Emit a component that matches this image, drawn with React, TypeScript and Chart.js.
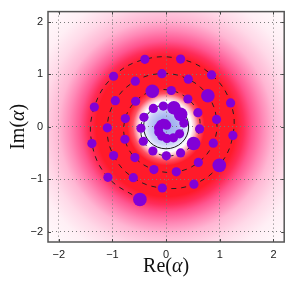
import React, { useEffect, useRef } from "react";
import { Chart, registerables } from "chart.js";

Chart.register(...registerables);

// ---- data ----
const axisTicks = [-2, -1, 0, 1, 2];
const axisMin = -2.2;
const axisMax = 2.2;
const xTitleParts = ["Re(", "\u03b1", ")"];
const yTitleParts = ["Im(", "\u03b1", ")"];

// trajectory points (Re, Im), ordered from the centre outwards
const dotRe = [
  0.01, -0.01, -0.053, -0.1, -0.14, -0.136, -0.083, 0.016, 0.137, 0.251,
  0.331, 0.27, 0.145, -0.052, -0.238, -0.413, -0.469, -0.425, -0.246, 0.004,
  0.27, 0.512, 0.624, 0.592, 0.406, 0.097, -0.257, -0.568, -0.76, -0.767,
  -0.581, -0.227, 0.19, 0.6, 0.879, 0.94, 0.778, 0.413, -0.078, -0.574,
  -0.946, -1.095, -0.978, -0.611, -0.071, 0.518, 0.991, 1.244, 1.201, 0.847,
  0.27, -0.395, -0.978, -1.337, -1.382, -1.084, -0.488,
];
const dotIm = [
  0.03, 0.055, 0.065, 0.04, -0.017, -0.098, -0.177, -0.223, -0.211, -0.134,
  0.071, 0.238, 0.363, 0.395, 0.35, 0.182, -0.028, -0.276, -0.462, -0.555,
  -0.499, -0.32, -0.041, 0.27, 0.531, 0.693, 0.68, 0.488, 0.158, -0.238,
  -0.587, -0.816, -0.86, -0.68, -0.313, 0.14, 0.592, 0.909, 1.015, 0.872,
  0.499, -0.019, -0.549, -0.972, -1.169, -1.095, -0.736, -0.164, 0.456, 0.991,
  1.294, 1.289, 0.965, 0.376, -0.32, -0.965, -1.387,
];
// relative marker weight (1 = normal, 2 = large)
const dotWeight = [
  1, 1, 1, 1, 1, 1, 1, 1, 1, 1,
  1, 2, 2, 1, 1, 1, 1, 1, 1, 1,
  1, 2, 1, 1, 1, 1, 2, 1, 1, 1,
  1, 1, 1, 1, 1, 1, 2, 1, 1, 1,
  1, 1, 1, 1, 1, 1, 2, 1, 1, 1,
  1, 1, 1, 1, 1, 1, 2,
];

// radial background (quasi-probability) profile
const bgRadius = [0, 0.2, 0.32, 0.4, 0.47, 0.54, 0.62, 0.72, 1.3, 1.45, 1.6, 1.8, 2.0, 2.3, 2.6, 3.2];
const bgColor = [
  "#98a8f0", "#aab8f2", "#c8d0f7", "#e6e9fc", "#ffffff", "#ffbcc6", "#ff5262", "#ff1a2a",
  "#ff1a2a", "#ff2c5a", "#ff5590", "#ff88b6", "#ffb6d3", "#ffd9e8", "#ffeff5", "#ffffff",
];
const zeroContourRadius = 0.42;

const fmt = (v: number) => (v < 0 ? "\u2212" + Math.abs(v) : String(v));

const SERIF = "'Liberation Serif', 'Times New Roman', serif";
const TITLE_SIZE = 20;

function drawMixed(ctx: CanvasRenderingContext2D, parts: string[], x: number, y: number, rot: number) {
  const fonts = parts.map((p, i) => (i === 1 ? `italic ${TITLE_SIZE}px ${SERIF}` : `${TITLE_SIZE}px ${SERIF}`));
  const widths = parts.map((p, i) => {
    ctx.font = fonts[i];
    return ctx.measureText(p).width;
  });
  const total = widths.reduce((a, b) => a + b, 0);
  ctx.save();
  ctx.translate(x, y);
  ctx.rotate(rot);
  ctx.fillStyle = "#111";
  ctx.textBaseline = "middle";
  ctx.textAlign = "left";
  let cx = -total / 2;
  parts.forEach((p, i) => {
    ctx.font = fonts[i];
    ctx.fillText(p, cx, 0);
    cx += widths[i];
  });
  ctx.restore();
}

const phasePlugin = {
  id: "phasePlugin",
  beforeDraw(chart: any) {
    const { ctx, chartArea: a, scales } = chart;
    const xs = scales.x, ys = scales.y;
    const cx = xs.getPixelForValue(0);
    const cy = ys.getPixelForValue(0);
    const rMax = bgRadius[bgRadius.length - 1];
    const pr = xs.getPixelForValue(rMax) - cx;
    const g = ctx.createRadialGradient(cx, cy, 0, cx, cy, pr);
    bgRadius.forEach((r, i) => g.addColorStop(r / rMax, bgColor[i]));
    ctx.save();
    ctx.fillStyle = g;
    ctx.fillRect(a.left, a.top, a.right - a.left, a.bottom - a.top);
    ctx.restore();
  },
  beforeDatasetsDraw(chart: any) {
    const { ctx, scales } = chart;
    const xs = scales.x, ys = scales.y;
    const cx = xs.getPixelForValue(0);
    const cy = ys.getPixelForValue(0);
    const rx = xs.getPixelForValue(zeroContourRadius) - cx;
    const ry = cy - ys.getPixelForValue(zeroContourRadius);
    ctx.save();
    ctx.strokeStyle = "#1a1a1a";
    ctx.lineWidth = 1;
    ctx.beginPath();
    ctx.ellipse(cx, cy, rx, ry, 0, 0, Math.PI * 2);
    ctx.stroke();
    ctx.restore();
  },
  afterDraw(chart: any) {
    const { ctx, chartArea: a, scales } = chart;
    ctx.save();
    ctx.strokeStyle = "#444";
    ctx.lineWidth = 1;
    const tl = 3;
    ctx.beginPath();
    axisTicks.forEach((v) => {
      const px = Math.round(scales.x.getPixelForValue(v)) + 0.5;
      ctx.moveTo(px, a.bottom);
      ctx.lineTo(px, a.bottom - tl);
      ctx.moveTo(px, a.top);
      ctx.lineTo(px, a.top + tl);
      const py = Math.round(scales.y.getPixelForValue(v)) + 0.5;
      ctx.moveTo(a.left, py);
      ctx.lineTo(a.left + tl, py);
      ctx.moveTo(a.right, py);
      ctx.lineTo(a.right - tl, py);
    });
    ctx.stroke();
    ctx.strokeStyle = "#555";
    ctx.lineWidth = 1.5;
    ctx.strokeRect(a.left, a.top, a.right - a.left, a.bottom - a.top);
    ctx.restore();
    // axis titles (upright "Re"/"Im", italic alpha)
    const midX = (a.left + a.right) / 2;
    const midY = (a.top + a.bottom) / 2;
    drawMixed(ctx, xTitleParts, midX, 267, 0);
    drawMixed(ctx, yTitleParts, 19, midY, -Math.PI / 2);
  },
};

export default function App() {
  const ref = useRef<HTMLCanvasElement | null>(null);

  useEffect(() => {
    if (!ref.current) return;
    const pts = dotRe.map((x, i) => ({ x, y: dotIm[i] }));
    const axisCommon = (isX: boolean) => ({
      type: "linear" as const,
      min: axisMin,
      max: axisMax,
      afterBuildTicks: (s: any) => {
        s.ticks = axisTicks.map((v) => ({ value: v }));
      },
      afterFit: (s: any) => {
        if (isX) s.height = 42;
        else s.width = 48;
      },
      grid: {
        color: "#7a7a7a",
        lineWidth: 1,
        drawTicks: false,
        drawOnChartArea: true,
      },
      border: { display: false, dash: [1, 3] },
      ticks: {
        color: "#1a1a1a",
        font: { family: "'Liberation Sans', Arial, sans-serif", size: 11 },
        padding: isX ? 6 : 5,
        callback: (v: any) => fmt(Number(v)),
        maxRotation: 0,
      },
      title: { display: false },
    });

    const radiusFor = (c: any) => (dotWeight[c.dataIndex] === 2 ? 6.8 : 4.6);

    const chart = new Chart(ref.current, {
      type: "scatter",
      data: {
        datasets: [
          {
            type: "scatter",
            data: pts,
            backgroundColor: "#8200d6",
            borderWidth: 0,
            pointRadius: radiusFor,
            pointHoverRadius: radiusFor,
          } as any,
          {
            type: "line",
            data: pts,
            showLine: true,
            borderColor: "#222",
            borderWidth: 1,
            borderDash: [5, 5],
            tension: 0.4,
            pointRadius: 0,
            fill: false,
          } as any,
        ],
      },
      options: {
        animation: false,
        responsive: false,
        maintainAspectRatio: false,
        layout: { padding: { left: 0, right: 6, top: 5, bottom: 0 } },
        plugins: { legend: { display: false }, tooltip: { enabled: false } },
        scales: {
          x: axisCommon(true),
          y: axisCommon(false),
        },
      },
      plugins: [phasePlugin],
    });
    return () => chart.destroy();
  }, []);

  return (
    <div style={{ position: "fixed", left: 0, top: 0, width: 291, height: 284, background: "#fff" }}>
      <canvas ref={ref} width={291} height={284} style={{ width: 291, height: 284, display: "block" }} />
    </div>
  );
}
